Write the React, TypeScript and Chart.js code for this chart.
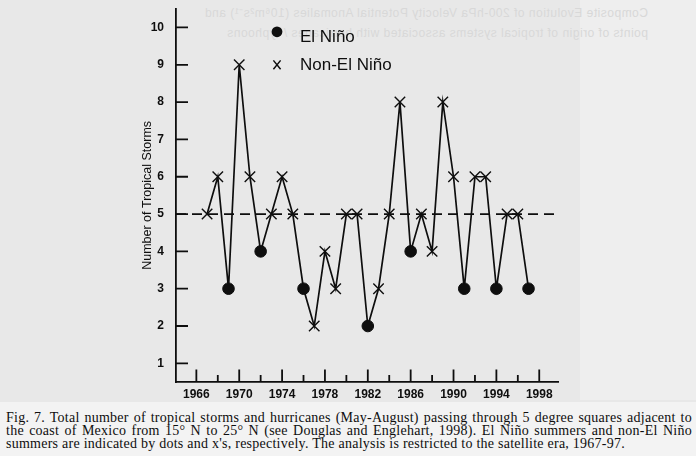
import React, { useEffect, useRef } from "react";
import { Chart, registerables } from "chart.js";

Chart.register(...registerables);

// ---- data ----
const years = [
  1967, 1968, 1969, 1970, 1971, 1972, 1973, 1974, 1975, 1976, 1977, 1978, 1979, 1980, 1981, 1982,
  1983, 1984, 1985, 1986, 1987, 1988, 1989, 1990, 1991, 1992, 1993, 1994, 1995, 1996, 1997,
];
const storms = [5, 6, 3, 9, 6, 4, 5, 6, 5, 3, 2, 4, 3, 5, 5, 2, 3, 5, 8, 4, 5, 4, 8, 6, 3, 6, 6, 3, 5, 5, 3];
const elNinoYears = [1969, 1972, 1976, 1982, 1986, 1991, 1994, 1997];
const yearTicks = [1966, 1970, 1974, 1978, 1982, 1986, 1990, 1994, 1998];
const minorYearTicks = [1968, 1972, 1976, 1980, 1984, 1988, 1992, 1996];
const stormTicks = [1, 2, 3, 4, 5, 6, 7, 8, 9, 10];
const thresholdValue = [5];
const xRange = [1964.1, 1999.75];
const yRange = [0.5, 10.5];
const seriesLabels = ["El Niño", "Non-El Niño"];
const yTitle = "Number of Tropical Storms";
const captionLines = [
  "Fig. 7. Total number of tropical storms and hurricanes (May-August) passing through 5 degree squares adjacent to",
  "the coast of Mexico from 15° N to 25° N (see Douglas and Englehart, 1998). El Niño summers and non-El Niño",
  "summers are indicated by dots and x's, respectively. The analysis is restricted to the satellite era, 1967-97.",
];
const ghostLines = [
  "Composite Evolution of 200-hPa Velocity Potential Anomalies (10⁶m²s⁻¹) and",
  "points of origin of tropical systems associated with hurricanes / typhoons",
];

const INK = "#0e0e0e";
const SANS = "'Liberation Sans', Arial, Helvetica, sans-serif";

const isElNino = (i: number) => elNinoYears.includes(years[i]);

const innerTicks = {
  id: "innerTicks",
  afterDraw(chart: any) {
    const { ctx, chartArea } = chart;
    const x = chart.scales.x;
    const y = chart.scales.y;
    ctx.save();
    ctx.strokeStyle = INK;
    ctx.lineWidth = 1.8;
    ctx.beginPath();
    yearTicks.forEach((v) => {
      const px = x.getPixelForValue(v);
      ctx.moveTo(px, chartArea.bottom);
      ctx.lineTo(px, chartArea.bottom - 12.5);
    });
    minorYearTicks.forEach((v) => {
      const px = x.getPixelForValue(v);
      ctx.moveTo(px, chartArea.bottom);
      ctx.lineTo(px, chartArea.bottom - 7);
    });
    stormTicks.forEach((v) => {
      const py = y.getPixelForValue(v);
      ctx.moveTo(chartArea.left, py);
      ctx.lineTo(chartArea.left + 12, py);
    });
    ctx.stroke();
    ctx.restore();
  },
};

const legendPlugin = {
  id: "customLegend",
  afterDraw(chart: any) {
    const { ctx, chartArea } = chart;
    const mx = chartArea.left + 101;
    const tx = chartArea.left + 124;
    const y1 = chartArea.top + 23;
    const y2 = chartArea.top + 56;
    ctx.save();
    ctx.fillStyle = INK;
    ctx.strokeStyle = INK;
    ctx.beginPath();
    ctx.arc(mx, y1, 5.4, 0, Math.PI * 2);
    ctx.fill();
    ctx.lineWidth = 1.5;
    const r = 3.6;
    ctx.beginPath();
    ctx.moveTo(mx - r, y2 - r - 0.8);
    ctx.lineTo(mx + r, y2 + r + 0.8);
    ctx.moveTo(mx + r, y2 - r - 0.8);
    ctx.lineTo(mx - r, y2 + r + 0.8);
    ctx.stroke();
    ctx.font = `17px ${SANS}`;
    ctx.textBaseline = "middle";
    ctx.textAlign = "left";
    ctx.fillText(seriesLabels[0], tx, y1 + 6);
    ctx.fillText(seriesLabels[1], tx, y2 + 1);
    ctx.restore();
  },
};

function StormChart() {
  const ref = useRef<HTMLCanvasElement>(null);
  useEffect(() => {
    if (!ref.current) return;
    const chart = new Chart(ref.current, {
      type: "line",
      data: {
        datasets: [
          {
            label: "Storms",
            data: years.map((yr, i) => ({ x: yr, y: storms[i] })),
            borderColor: INK,
            borderWidth: 1.7,
            tension: 0,
            pointStyle: (c: any) => (isElNino(c.dataIndex ?? -1) ? "circle" : "crossRot"),
            pointRadius: (c: any) => (isElNino(c.dataIndex ?? -1) ? 5.8 : 7.4),
            pointBorderWidth: (c: any) => (isElNino(c.dataIndex ?? -1) ? 1 : 1.4),
            pointBackgroundColor: INK,
            pointBorderColor: INK,
          } as any,
          {
            label: "Average",
            data: [
              { x: xRange[0], y: thresholdValue[0] },
              { x: xRange[1], y: thresholdValue[0] },
            ],
            borderColor: INK,
            borderWidth: 1.8,
            borderDash: [10, 6],
            pointRadius: 0,
          },
        ],
      },
      options: {
        responsive: false,
        animation: false,
        events: [],
        layout: { padding: { left: 140, top: 6, right: 138, bottom: 0 } },
        plugins: { legend: { display: false }, tooltip: { enabled: false } },
        scales: {
          x: {
            type: "linear",
            min: xRange[0],
            max: xRange[1],
            grid: { display: false },
            border: { display: true, color: INK, width: 1.8 },
            afterBuildTicks: (s: any) => {
              s.ticks = yearTicks.map((v) => ({ value: v }));
            },
            afterFit: (s: any) => {
              s.height = 28;
              s.paddingLeft = 0;
              s.paddingRight = 0;
            },
            ticks: {
              padding: -3,
              color: INK,
              autoSkip: false,
              maxRotation: 0,
              font: { family: SANS, size: 12, weight: "bold" },
              callback: (v: any) => String(v),
            },
          },
          y: {
            type: "linear",
            min: yRange[0],
            max: yRange[1],
            grid: { display: false },
            border: { display: true, color: INK, width: 1.8 },
            afterBuildTicks: (s: any) => {
              s.ticks = stormTicks.map((v) => ({ value: v }));
            },
            afterFit: (s: any) => {
              s.width = 36;
              s.paddingTop = 0;
              s.paddingBottom = 0;
            },
            ticks: {
              padding: 4,
              color: INK,
              font: { family: SANS, size: 12, weight: "bold" },
              callback: (v: any) => String(v),
            },
            title: {
              display: true,
              text: yTitle,
              color: INK,
              padding: 0,
              font: { family: SANS, size: 12.5 },
            },
          },
        },
      },
      plugins: [innerTicks, legendPlugin],
    });
    return () => chart.destroy();
  }, []);
  return <canvas ref={ref} width={696} height={410} style={{ position: "absolute", left: 0, top: 0, width: 696, height: 410 }} />;
}

export default function App() {
  useEffect(() => {
    document.body.style.margin = "0";
  }, []);
  const captionTops = [411, 424, 436.5];
  return (
    <div style={{ position: "relative", width: 696, height: 456, overflow: "hidden", background: "#e8e8e8" }}>
      <div style={{ position: "absolute", left: 580, top: 0, width: 116, height: 400, background: "#eeeeee" }} />
      <div style={{ position: "absolute", left: 0, top: 402, width: 696, height: 54, background: "#f3f3f3" }} />
      {ghostLines.map((t, i) => (
        <div
          key={i}
          style={{
            position: "absolute",
            left: 340,
            top: 4 + i * 22,
            width: 308,
            whiteSpace: "nowrap",
            textAlign: "justify",
            textAlignLast: "justify" as any,
            transform: "scaleX(-1)",
            font: `12px ${SANS}`,
            letterSpacing: "0.5px",
            color: "#d8d8d8",
          }}
        >
          {t}
        </div>
      ))}
      <StormChart />
      {captionLines.map((t, i) => (
        <div
          key={i}
          style={{
            position: "absolute",
            left: 6,
            top: captionTops[i],
            width: i < 2 ? 686 : undefined,
            whiteSpace: "nowrap",
            textAlign: i < 2 ? "justify" : "left",
            textAlignLast: (i < 2 ? "justify" : "auto") as any,
            font: "14px 'Liberation Serif', 'Times New Roman', serif",
            letterSpacing: "0.25px",
            lineHeight: "14px",
            color: INK,
          }}
        >
          {t}
        </div>
      ))}
    </div>
  );
}
